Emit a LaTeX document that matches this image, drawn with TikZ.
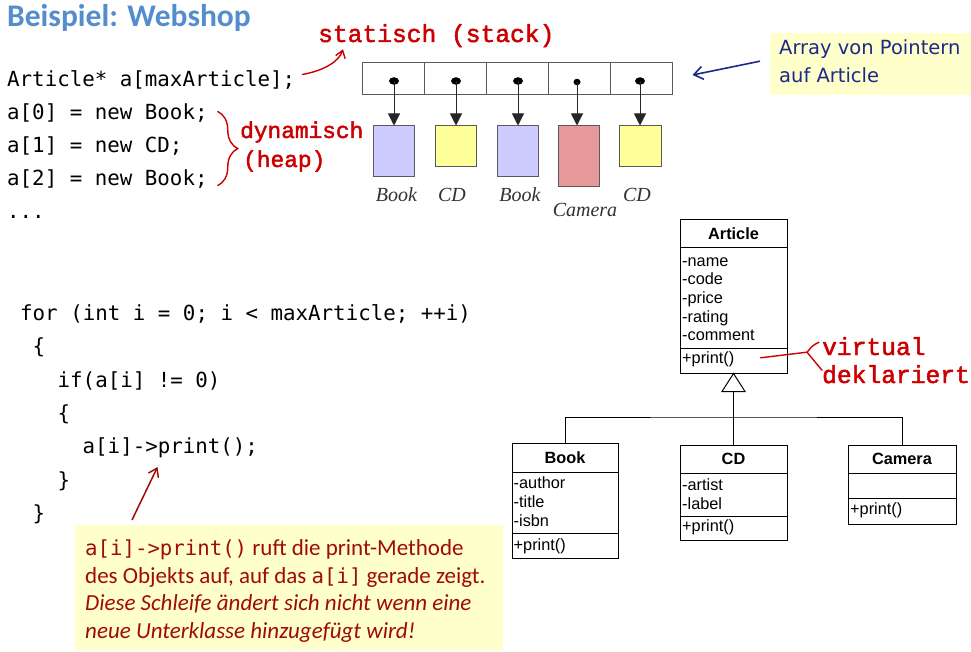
\documentclass[tikz,border=0pt]{standalone}
\usepackage{fontspec}
\setmainfont{Carlito}
\newfontfamily\codefont{DejaVu Sans Mono}
\newfontfamily\courfont[FakeBold=2]{Liberation Mono}
\newfontfamily\umlfont{Liberation Sans}
\newfontfamily\typefont{Liberation Serif}
\newfontfamily\arrfont{DejaVu Sans}
\usetikzlibrary{arrows.meta,decorations.pathreplacing,calc,shapes.geometric}

\definecolor{titleblue}{RGB}{84,141,204}
\definecolor{remark}{RGB}{204,0,0}
\definecolor{darkred}{RGB}{160,10,10}
\definecolor{noteyellow}{RGB}{255,255,204}
\definecolor{navy}{RGB}{28,42,135}
\definecolor{bookblue}{RGB}{204,204,255}
\definecolor{cdyellow}{RGB}{255,255,153}
\definecolor{camred}{RGB}{229,153,153}
\definecolor{framegray}{RGB}{90,90,90}
\definecolor{labelgray}{RGB}{50,50,50}

\begin{document}
\begin{tikzpicture}[x=1pt,y=-1pt,
  titletext/.style={anchor=base west,inner sep=0pt,text=titleblue,
    font=\bfseries\fontsize{31.5}{36}\selectfont},
  codeline/.style={anchor=base west,inner sep=0pt,
    font=\codefont\fontsize{20.8}{25}\selectfont},
  remarktext/.style={anchor=base west,inner sep=0pt,text=remark,
    font=\courfont\fontsize{24.6}{28}\selectfont},
  remarksmall/.style={remarktext,font=\courfont\fontsize{22.8}{26}\selectfont},
  remarkline/.style={draw=remark,line width=1.4pt,line cap=round},
  cell/.style={draw=framegray,line width=1pt,minimum width=62pt,minimum height=32pt,inner sep=0pt},
  ptrdot/.style={ellipse,fill=black,minimum width=10pt,minimum height=7.5pt,inner sep=0pt},
  objbox/.style={draw=framegray,line width=1pt,inner sep=0pt},
  ptrarrow/.style={draw=black!85,line width=1pt,-{Triangle[length=12pt,width=12pt]}},
  typelabel/.style={anchor=base,inner sep=0pt,text=labelgray,
    font=\typefont\itshape\fontsize{20}{24}\selectfont},
  notebox/.style={fill=noteyellow,inner sep=0pt,anchor=north west},
  arrtext/.style={anchor=base west,inner sep=0pt,text=navy,
    font=\arrfont\fontsize{19.5}{23}\selectfont},
  umlpart/.style={draw=black,line width=1pt,inner sep=0pt},
  umltext/.style={anchor=base west,inner sep=0pt,font=\umlfont\fontsize{16.3}{19}\selectfont},
  umltitle/.style={anchor=base,inner sep=0pt,font=\umlfont\bfseries\fontsize{16.3}{19}\selectfont},
  umlline/.style={draw=black,line width=1pt},
  notetext/.style={anchor=base west,inner sep=0pt,text=darkred,
    font=\fontsize{23}{27}\selectfont},
]
\useasboundingbox (0,0) rectangle (971,652);
\fill[white] (0,0) rectangle (971,652);

% heading
\node[titletext] (title) at (7,27) {Beispiel: Webshop};

% declaration and allocation of the article array
\node[codeline] (decl) at (7,87) {Article* a[maxArticle];};
\node[codeline] (new0) at (7,120) {a[0] = new Book;};
\node[codeline] (new1) at (7,153) {a[1] = new CD;};
\node[codeline] (new2) at (7,186) {a[2] = new Book;};
\node[codeline] (more) at (7,219) {...};

% remarks on storage
\node[remarktext] (stat) at (318,42) {statisch (stack)};
\node[remarksmall] (dyn) at (240,138) {dynamisch};
\node[remarksmall] (heap) at (243,167) {(heap)};

\draw[remarkline,-{Straight Barb[length=7pt,width=10pt]}]
  ($(decl.east)+(7,-6)$) .. controls +(22,-4) and +(-4,12) .. ($(stat.south west)+(25,2)$);
\draw[remarkline,decorate,decoration={brace,amplitude=20pt}]
  ($(new0.east)+(10,-2)$) -- ($(new2.east)+(10,6)$);

% the pointer array
\foreach \i/\x in {1/393,2/455,3/517,4/579,5/641}
  \node[cell] (cell\i) at (\x,79) {};
\node[ptrdot] (p1) at (394,81) {};
\node[ptrdot] (p2) at (456,81) {};
\node[ptrdot] (p3) at (518,81) {};
\node[ptrdot,minimum width=7pt,minimum height=6.5pt] (p4) at (577,82) {};
\node[ptrdot] (p5) at (640,81) {};

% the objects on the heap
\node[objbox,fill=bookblue,minimum width=41pt,minimum height=51pt] (o1) at (393.5,151.5) {};
\node[objbox,fill=cdyellow,minimum width=41pt,minimum height=41pt] (o2) at (455.5,146.5) {};
\node[objbox,fill=bookblue,minimum width=41pt,minimum height=51pt] (o3) at (517.5,151.5) {};
\node[objbox,fill=camred,minimum width=41pt,minimum height=61pt] (o4) at (578.5,156.5) {};
\node[objbox,fill=cdyellow,minimum width=42pt,minimum height=41pt] (o5) at (640,146.5) {};

\foreach \i in {1,...,5}
  \draw[ptrarrow] (p\i.center) -- (p\i |- o\i.north);

\node[typelabel] (t1) at (396.5,202) {Book};
\node[typelabel] (t2) at (452,202) {CD};
\node[typelabel] (t3) at (520,202) {Book};
\node[typelabel] (t4) at (585,217) {Camera};
\node[typelabel] (t5) at (637,202) {CD};

% note on the array
\node[notebox,minimum width=201pt,minimum height=62pt] (arrnote) at (770,33) {};
\node[arrtext] (arrl1) at (779,55) {Array von Pointern};
\node[arrtext] (arrl2) at (779,83) {auf Article};
\draw[navy,line width=1.6pt,-{Straight Barb[length=9pt,width=13pt]}]
  ($(arrnote.west)+(-10,-3)$) -- ($(cell5.east)+(20,-4)$);

% polymorphic loop
\node[codeline] (l1) at (20,320) {for (int i = 0; i < maxArticle; ++i)};
\node[codeline] (l2) at (32.5,353) {\{};
\node[codeline] (l3) at (57.5,387) {if(a[i] != 0)};
\node[codeline] (l4) at (57.5,420) {\{};
\node[codeline] (l5) at (82.5,453) {a[i]->print();};
\node[codeline] (l6) at (57.5,487) {\}};
\node[codeline] (l7) at (32.5,520) {\}};

% explanation of the call
\node[notebox,minimum width=428pt,minimum height=125pt] (note) at (75,525) {};
\node[notetext] (n1) at (85,555) {{\codefont\fontsize{20.7}{25}\selectfont a[i]->print()} ruft die print-Methode};
\node[notetext] (n2) at (85,583) {des Objekts auf, auf das {\codefont\fontsize{20.7}{25}\selectfont a[i]} gerade zeigt.};
\node[notetext,font=\itshape\fontsize{23}{27}\selectfont] (n3) at (85,610) {Diese Schleife ändert sich nicht wenn eine};
\node[notetext,font=\itshape\fontsize{23}{27}\selectfont] (n4) at (85,638) {neue Unterklasse hinzugefügt wird!};
\draw[darkred,line width=1.5pt,-{Straight Barb[length=8pt,width=11pt]}]
  ($(note.north west)+(57,-5)$) -- ($(l5.base west)+(75,14)$);

% class diagram: Article
\node[umlpart,minimum width=107pt,minimum height=28pt] (arth) at (733.5,234) {};
\node[umlpart,minimum width=107pt,minimum height=100pt] (arta) at (733.5,298) {};
\node[umlpart,minimum width=107pt,minimum height=25pt] (artm) at (733.5,360.5) {};
\node[umltitle] at (733.5,239.5) {Article};
\node[umltext] at (682,266) {-name};
\node[umltext] at (682,284.7) {-code};
\node[umltext] at (682,303.3) {-price};
\node[umltext] at (682,322) {-rating};
\node[umltext] at (682,340.7) {-comment};
\node[umltext] (artprint) at (682,363) {+print()};

% Book
\node[umlpart,minimum width=106pt,minimum height=29pt] (bkh) at (565,457.5) {};
\node[umlpart,minimum width=106pt,minimum height=61pt] (bka) at (565,502.5) {};
\node[umlpart,minimum width=106pt,minimum height=25pt] (bkm) at (565,545.5) {};
\node[umltitle] at (565,463) {Book};
\node[umltext] at (513.5,488) {-author};
\node[umltext] at (513.5,507) {-title};
\node[umltext] at (513.5,526.5) {-isbn};
\node[umltext] at (513.5,550) {+print()};

% CD
\node[umlpart,minimum width=107pt,minimum height=28pt] (cdh) at (733.5,459) {};
\node[umlpart,minimum width=107pt,minimum height=43pt] (cda) at (733.5,494.5) {};
\node[umlpart,minimum width=107pt,minimum height=24pt] (cdm) at (733.5,528) {};
\node[umltitle] at (733.5,464) {CD};
\node[umltext] at (682,490) {-artist};
\node[umltext] at (682,509) {-label};
\node[umltext] at (682,531.5) {+print()};

% Camera
\node[umlpart,minimum width=108pt,minimum height=28pt] (cmh) at (902,459) {};
\node[umlpart,minimum width=108pt,minimum height=25pt] (cma) at (902,485.5) {};
\node[umlpart,minimum width=108pt,minimum height=26pt] (cmm) at (902,511) {};
\node[umltitle] at (902,464) {Camera};
\node[umltext] at (850,514) {+print()};

% generalisation
\coordinate (tribase) at ($(artm.south)+(0,18)$);
\coordinate (bus) at (733.5,417);
\draw[umlline] (artm.south) -- ($(tribase)+(-11.5,0)$) -- ($(tribase)+(11.5,0)$) -- cycle;
\draw[umlline] (tribase) -- (bus);
\draw[umlline] (bkh.north) |- (bus) -| (cmh.north);
\draw[umlline] (cdh.north) -- (bus);

% virtual remark
\node[remarktext] (virt) at (822,355) {virtual};
\node[remarktext] (dekl) at (822,383) {deklariert};
\coordinate (vstart) at ($(artprint.east)+(26,-1)$);
\coordinate (vjoin) at ($(virt.west)+(-15,6)$);
\coordinate (vtop) at ($(virt.west)+(-3,-4)$);
\coordinate (vbot) at ($(dekl.west)+(0,-4)$);
\draw[remarkline] (vstart) -- (vjoin);
\draw[remarkline] (vtop) .. controls +(-6,3) .. (vjoin) .. controls +(5,6) .. (vbot);
\end{tikzpicture}
\end{document}
